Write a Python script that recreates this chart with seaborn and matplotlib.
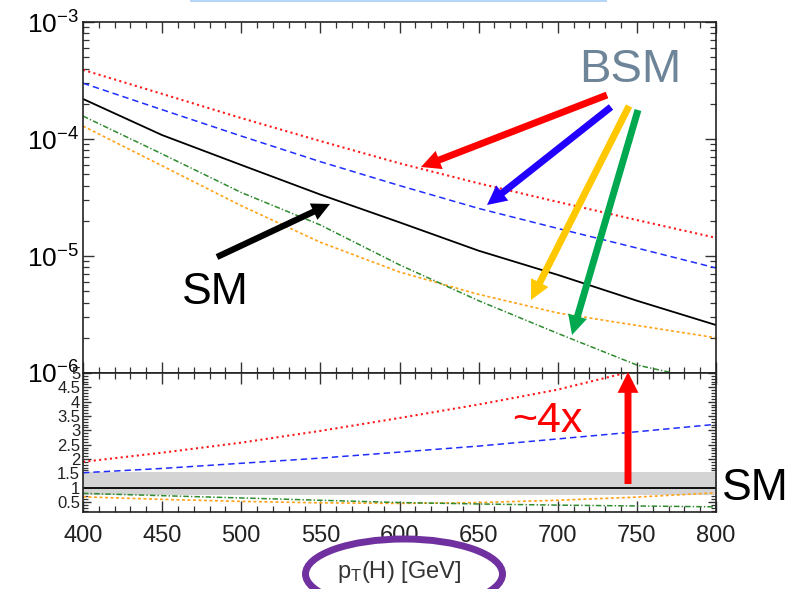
import numpy as np
import pandas as pd
import matplotlib
matplotlib.use("Agg")
import matplotlib.pyplot as plt
import seaborn as sns
from matplotlib.patches import FancyArrowPatch, Ellipse, Rectangle
from matplotlib.ticker import MultipleLocator, LogLocator, NullFormatter, FixedLocator, FixedFormatter

# ---------------- data ----------------
pt = [400, 450, 500, 550, 600, 650, 700, 750, 800]
sm = [2.2e-4, 1.08e-4, 6.0e-5, 3.35e-5, 1.94e-5, 1.11e-5, 6.9e-6, 4.15e-6, 2.57e-6]
bsm_red = [3.9e-4, 2.43e-4, 1.51e-4, 9.6e-5, 6.2e-5, 4.18e-5, 2.9e-5, 2.03e-5, 1.43e-5]
bsm_blue = [3.0e-4, 1.78e-4, 1.06e-4, 6.4e-5, 4.0e-5, 2.55e-5, 1.72e-5, 1.17e-5, 7.9e-6]
bsm_green = [1.57e-4, 7.45e-5, 3.49e-5, 1.84e-5, 8.4e-6, 4.15e-6, 2.18e-6, 1.17e-6, 8.3e-7]
bsm_orange = [1.29e-4, 5.9e-5, 2.69e-5, 1.31e-5, 7.3e-6, 4.7e-6, 3.26e-6, 2.55e-6, 2.0e-6]

ratio_red = [1.9, 2.22, 2.57, 2.98, 3.43, 3.9, 4.42, 5.1, 5.75]
ratio_blue = [1.52, 1.67, 1.85, 2.03, 2.24, 2.45, 2.7, 2.95, 3.21]
ratio_green = [0.80, 0.72, 0.64, 0.56, 0.48, 0.43, 0.39, 0.36, 0.33]
ratio_orange = [0.68, 0.59, 0.52, 0.47, 0.45, 0.48, 0.56, 0.67, 0.82]
ratio_sm = [1.0] * len(pt)
band_low = [0.75] * len(pt)
band_high = [1.55] * len(pt)

upper_ticks = [1e-6, 1e-5, 1e-4, 1e-3]
upper_labels = [r"$10^{-6}$", r"$10^{-5}$", r"$10^{-4}$", r"$10^{-3}$"]
lower_ticks = [0.5, 1, 1.5, 2, 2.5, 3, 3.5, 4, 4.5, 5]
lower_labels = ["0.5", "1", "1.5", "2", "2.5", "3", "3.5", "4", "4.5", "5"]
x_ticks = [400, 450, 500, 550, 600, 650, 700, 750, 800]

# ---------------- style ----------------
sns.set_theme(style="white")
plt.rcParams["font.family"] = ["Liberation Sans", "DejaVu Sans"]
plt.rcParams["mathtext.fontset"] = "custom"
plt.rcParams["mathtext.rm"] = "Liberation Sans"
plt.rcParams["mathtext.it"] = "Liberation Sans:italic"
plt.rcParams["mathtext.default"] = "regular"

W, H = 798, 589
fig = plt.figure(figsize=(W / 100, H / 100), dpi=100)
fig.patch.set_facecolor("white")

def fx(px):
    return px / W

def fy(py):
    return 1 - py / H

ax1 = fig.add_axes([fx(83), fy(373), fx(716) - fx(83), fy(22) - fy(373)])
ax2 = fig.add_axes([fx(83), fy(512), fx(716) - fx(83), fy(373) - fy(512)])

df = pd.DataFrame({"pt": pt, "sm": sm, "red": bsm_red, "blue": bsm_blue,
                   "green": bsm_green, "orange": bsm_orange,
                   "r_red": ratio_red, "r_blue": ratio_blue, "r_green": ratio_green,
                   "r_orange": ratio_orange, "r_sm": ratio_sm})

styles = {
    "red": dict(color="#ff1a1a", ls=(0, (1.0, 1.6)), lw=1.5),
    "blue": dict(color="#1f2dff", ls=(0, (4.2, 2.6)), lw=1.1),
    "sm": dict(color="black", ls="-", lw=1.3),
    "green": dict(color="#2e8b2e", ls=(0, (3.6, 1.4, 0.9, 1.4)), lw=1.1),
    "orange": dict(color="#ffa31a", ls=(0, (1.8, 1.5)), lw=1.2),
}

def draw(ax, col, key):
    st = styles[key]
    sns.lineplot(data=df, x="pt", y=col, ax=ax, color=st["color"], lw=st["lw"],
                 legend=False, errorbar=None)
    ln = ax.lines[-1]
    ln.set_linestyle(st["ls"])

# ---- upper panel ----
for key in ["orange", "green", "sm", "blue", "red"]:
    draw(ax1, key, key)
ax1.set_yscale("log")
ax1.set_ylim(1e-6, 1e-3)
ax1.set_xlim(400, 800)

# ---- lower panel ----
ax2.fill_between(pt, band_low, band_high, color="#d4d4d4", lw=0, zorder=1)
for key, col in [("orange", "r_orange"), ("green", "r_green"), ("sm", "r_sm"),
                 ("blue", "r_blue"), ("red", "r_red")]:
    draw(ax2, col, key)
ax2.set_xlim(400, 800)
ax2.set_ylim(0.15, 5)

for ax in (ax1, ax2):
    ax.set_xlabel("")
    ax.set_ylabel("")
    for s in ax.spines.values():
        s.set_color("#222222")
        s.set_linewidth(1.2)
    ax.tick_params(which="both", direction="in", top=True, right=True,
                   bottom=True, left=True, colors="#333333")
    ax.tick_params(which="major", length=8, width=1.0)
    ax.tick_params(which="minor", length=4.5, width=0.9)
    ax.xaxis.set_major_locator(FixedLocator(x_ticks))
    ax.xaxis.set_minor_locator(MultipleLocator(10))

ax1.yaxis.set_major_locator(FixedLocator(upper_ticks))
ax1.yaxis.set_major_formatter(FixedFormatter(upper_labels))
ax1.yaxis.set_minor_locator(LogLocator(base=10, subs=np.arange(2, 10)))
ax1.yaxis.set_minor_formatter(NullFormatter())
ax1.tick_params(axis="y", which="major", labelsize=19, pad=3, labelcolor="black")
ax1.tick_params(axis="x", labelbottom=False)

ax2.yaxis.set_major_locator(FixedLocator(lower_ticks))
ax2.yaxis.set_major_formatter(FixedFormatter(lower_labels))
ax2.yaxis.set_minor_locator(MultipleLocator(0.1))
ax2.tick_params(axis="y", which="major", labelsize=12, pad=2, labelcolor="#222222", length=6)
ax2.tick_params(axis="y", which="minor", length=3.5)
ax2.tick_params(axis="x", labelsize=17, pad=9, labelcolor="#222222")

# ---------------- annotations ----------------
def arrow(x0, y0, x1, y1, color, tail=5.0, head_w=14.0, head_l=14.0):
    a = FancyArrowPatch((fx(x0), fy(y0)), (fx(x1), fy(y1)), transform=fig.transFigure,
                        arrowstyle=f"simple,head_length={head_l},head_width={head_w},tail_width={tail}",
                        mutation_scale=1, color=color, lw=0, shrinkA=0, shrinkB=0, zorder=10)
    fig.add_artist(a)

arrow(607, 95, 421, 167, "#ff0000")
arrow(611, 107, 487, 205, "#2200ff")
arrow(629, 106, 531, 300, "#ffc800")
arrow(638, 110, 572, 335, "#00a84f")
arrow(217, 257, 330, 204, "black", tail=4.5, head_w=13, head_l=13)
arrow(628, 484, 628, 372, "#ff0000", tail=5.0, head_w=15, head_l=15)

fig.text(fx(630), fy(70), "BSM", color="#6e8599", fontsize=34, ha="center", va="center")
fig.text(fx(215), fy(292), "SM", color="black", fontsize=32, ha="center", va="center")
fig.text(fx(755), fy(489), "SM", color="black", fontsize=32, ha="center", va="center")
fig.text(fx(547), fy(421), "~4x", color="#ff0000", fontsize=31, ha="center", va="center")

fig.text(fx(399), fy(572), r"p$_\mathrm{T}$(H) [GeV]", color="#333333", fontsize=17,
         ha="center", va="center")
ell = Ellipse((fx(404), fy(574)), fx(197), 70 / H, transform=fig.transFigure,
              fill=False, edgecolor="#7030a0", lw=5)
fig.add_artist(ell)

fig.add_artist(Rectangle((fx(190), fy(2)), fx(607) - fx(190), 2 / H,
                         transform=fig.transFigure, color="#b7d5f7", lw=0))

fig.savefig("out.png", dpi=100)
